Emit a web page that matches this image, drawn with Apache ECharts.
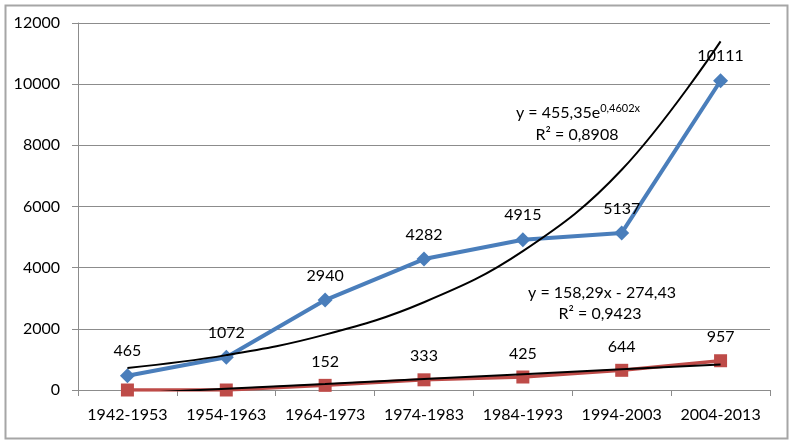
<!DOCTYPE html>
<html>
<head>
<meta charset="utf-8">
<script src="https://cdn.jsdelivr.net/npm/echarts@6/dist/echarts.min.js"></script>
<style>
html,body{margin:0;padding:0;background:#fff;}
#c{width:792px;height:440px;}
</style>
</head>
<body>
<div id="c"></div>
<script>
const categories = ['1942-1953','1954-1963','1964-1973','1974-1983','1984-1993','1994-2003','2004-2013'];
const blueValues = [465, 1072, 2940, 4282, 4915, 5137, 10111];
const redValues = [0, 0, 152, 333, 425, 644, 957];
const expTrend = [720, 1140, 1810, 2870, 4540, 7200, 11400];
const linTrend = [-116, 42, 200, 359, 517, 675, 834];
const yTicks = { min: 0, max: 12000, interval: 2000 };

const FONT = 'Lato';
const chart = echarts.init(document.getElementById('c'));
const labelStyle = { show: true, position: 'top', distance: 9, color: '#000', fontSize: 16, fontFamily: FONT };

chart.setOption({
  animation: false,
  backgroundColor: '#fff',
  grid: { left: 78, right: 22, top: 23, bottom: 50, containLabel: false },
  xAxis: {
    type: 'category',
    data: categories,
    boundaryGap: true,
    axisLine: { lineStyle: { color: '#8c8c8c', width: 1 } },
    axisTick: { show: true, length: 6, interval: 0, lineStyle: { color: '#8c8c8c' } },
    axisLabel: { color: '#000', fontSize: 16, fontFamily: FONT, margin: 17, interval: 0 }
  },
  yAxis: {
    type: 'value',
    min: yTicks.min, max: yTicks.max, interval: yTicks.interval,
    axisLine: { show: true, lineStyle: { color: '#8c8c8c', width: 1 } },
    axisTick: { show: true, length: 6, lineStyle: { color: '#8c8c8c' } },
    splitLine: { show: true, lineStyle: { color: '#8c8c8c', width: 1 } },
    axisLabel: { color: '#000', fontSize: 16, fontFamily: FONT, margin: 18, formatter: v => String(v) }
  },
  series: [
    {
      type: 'line', data: blueValues,
      symbol: 'diamond', symbolSize: 15,
      lineStyle: { color: '#4A7EBB', width: 4 },
      itemStyle: { color: '#4A7EBB' },
      label: labelStyle, z: 2
    },
    {
      type: 'line', data: redValues,
      symbol: 'rect', symbolSize: 13,
      lineStyle: { color: '#BE4B48', width: 3.5 },
      itemStyle: { color: '#BE4B48' },
      label: Object.assign({}, labelStyle, { formatter: p => (p.value > 0 ? String(p.value) : '') }),
      z: 3
    },
    {
      type: 'line', data: expTrend, smooth: 0.4,
      symbol: 'none', lineStyle: { color: '#000', width: 2 }, z: 4, silent: true
    },
    {
      type: 'line', data: linTrend, clip: true,
      symbol: 'none', lineStyle: { color: '#000', width: 2 }, z: 4, silent: true
    }
  ],
  graphic: [
    { type: 'rect', left: 3, top: 3, shape: { width: 782, height: 433 }, style: { fill: 'none', stroke: '#a6a6a6', lineWidth: 2 }, silent: true },
    { type: 'text', x: 578, y: 113, style: { text: '{a|y = 455,35e}{s|0,4602x}', textAlign: 'center', textVerticalAlign: 'middle', rich: { a: { fontSize: 16, fontFamily: FONT, color: '#000', lineHeight: 20 }, s: { fontSize: 11, fontFamily: FONT, color: '#000', verticalAlign: 'top', lineHeight: 12 } } } },
    { type: 'text', x: 577, y: 135, style: { text: 'R² = 0,8908', font: '16px ' + FONT, fill: '#000', textAlign: 'center', textVerticalAlign: 'middle' } },
    { type: 'text', x: 602, y: 293, style: { text: 'y = 158,29x - 274,43', font: '16px ' + FONT, fill: '#000', textAlign: 'center', textVerticalAlign: 'middle' } },
    { type: 'text', x: 600, y: 314, style: { text: 'R² = 0,9423', font: '16px ' + FONT, fill: '#000', textAlign: 'center', textVerticalAlign: 'middle' } }
  ]
});
</script>
</body>
</html>
